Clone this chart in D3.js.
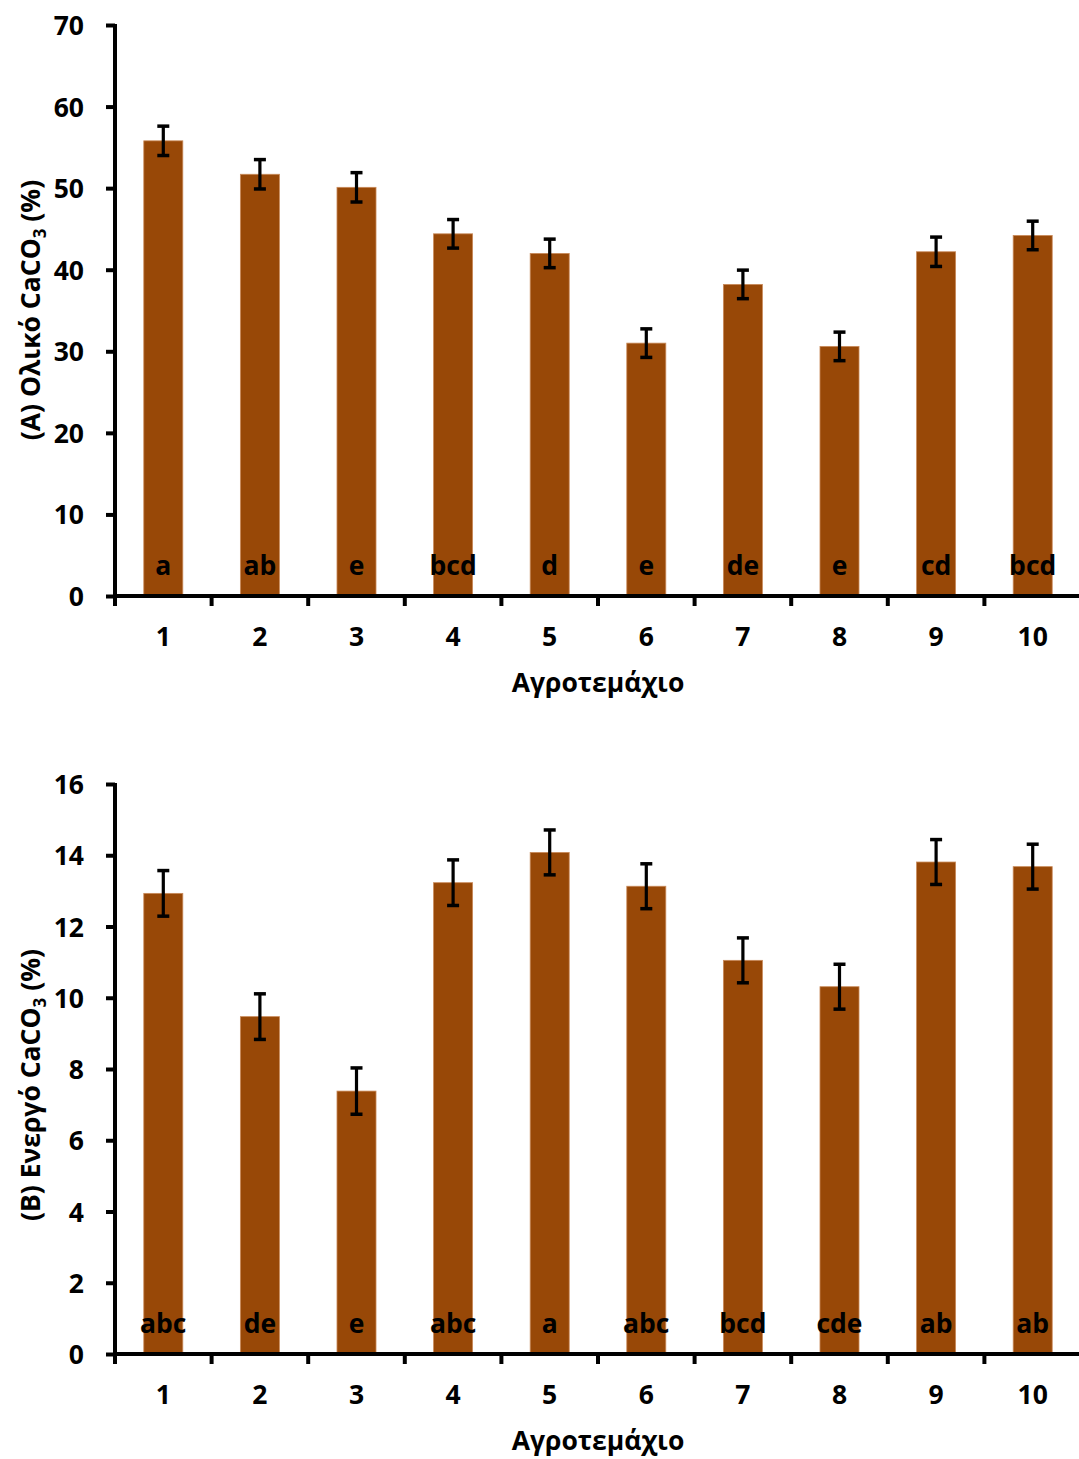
<!DOCTYPE html>
<html>
<head>
<meta charset="utf-8">
<script src="https://cdn.jsdelivr.net/npm/d3@7"></script>
<style>
  html, body { margin: 0; padding: 0; background: #fff; }
  svg { display: block; }
  text { font-family: "Open Sans", "Noto Sans", sans-serif; font-weight: 700; fill: #000; }
</style>
</head>
<body>
<svg id="chart" width="1079" height="1459"></svg>
<script>
// Plot (field) identifiers shared by both panels
const plots = ["1", "2", "3", "4", "5", "6", "7", "8", "9", "10"];

// Panel A: total CaCO3 (%), mean ± error, and significance letters
const totalValues = [55.8, 51.7, 50.1, 44.4, 42.0, 31.0, 38.2, 30.6, 42.2, 44.2];
const totalErrors = [1.8, 1.8, 1.8, 1.75, 1.75, 1.75, 1.75, 1.75, 1.8, 1.75];
const totalLetters = ["a", "ab", "e", "bcd", "d", "e", "de", "e", "cd", "bcd"];
const totalTicks = [0, 10, 20, 30, 40, 50, 60, 70];

// Panel B: active CaCO3 (%), mean ± error, and significance letters
const activeValues = [12.93, 9.47, 7.38, 13.23, 14.08, 13.13, 11.05, 10.31, 13.81, 13.68];
const activeErrors = [0.64, 0.64, 0.65, 0.64, 0.63, 0.63, 0.63, 0.63, 0.63, 0.63];
const activeLetters = ["abc", "de", "e", "abc", "a", "abc", "bcd", "cde", "ab", "ab"];
const activeTicks = [0, 2, 4, 6, 8, 10, 12, 14, 16];

const svg = d3.select("#chart");
const barColor = "#984807";
const axisWidth = 4;
const fontSize = "26.5px";

function drawPanel(cfg) {
  const g = svg.append("g");
  const x = d3.scaleBand()
    .domain(plots)
    .range([115, 1081])
    .paddingInner(0.596)
    .paddingOuter(0.298);
  const y = d3.scaleLinear()
    .domain([0, cfg.max])
    .range([cfg.bottom, cfg.top]);
  const step = x.step();
  const gap = (step - x.bandwidth()) / 2;

  // bars
  g.selectAll("rect.bar")
    .data(plots)
    .join("rect")
    .attr("class", "bar")
    .attr("x", d => x(d))
    .attr("width", x.bandwidth())
    .attr("y", (d, i) => y(cfg.values[i]))
    .attr("height", (d, i) => y(0) - y(cfg.values[i]))
    .attr("fill", barColor)
    .attr("stroke", "#c98a5a")
    .attr("stroke-width", 0.8);

  // error bars
  const eb = g.selectAll("g.err")
    .data(plots)
    .join("g")
    .attr("class", "err")
    .attr("transform", d => `translate(${x(d) + x.bandwidth() / 2},0)`);
  eb.append("line")
    .attr("y1", (d, i) => y(cfg.values[i] + cfg.errors[i]))
    .attr("y2", (d, i) => y(cfg.values[i] - cfg.errors[i]))
    .attr("stroke", "#000").attr("stroke-width", 3.2);
  [1, -1].forEach(sign => {
    eb.append("line")
      .attr("x1", -6).attr("x2", 6)
      .attr("y1", (d, i) => y(cfg.values[i] + sign * cfg.errors[i]))
      .attr("y2", (d, i) => y(cfg.values[i] + sign * cfg.errors[i]))
      .attr("stroke", "#000").attr("stroke-width", 3.5);
  });

  // significance letters inside the bars
  g.selectAll("text.letter")
    .data(plots)
    .join("text")
    .attr("class", "letter")
    .attr("x", d => x(d) + x.bandwidth() / 2)
    .attr("y", y(0) - 21)
    .attr("text-anchor", "middle")
    .style("font-size", fontSize)
    .text((d, i) => cfg.letters[i]);

  // y axis
  const yAxis = d3.axisLeft(y)
    .tickValues(cfg.ticks)
    .tickSize(9)
    .tickSizeOuter(0)
    .tickPadding(0)
    .tickFormat(d3.format("d"));
  const ya = g.append("g")
    .attr("transform", "translate(115,0)")
    .call(yAxis);
  ya.select(".domain").attr("stroke", "#000").attr("stroke-width", axisWidth)
    .attr("d", `M0,${cfg.top - 1}V${cfg.bottom + 10}`);
  ya.selectAll(".tick line").attr("stroke", "#000").attr("stroke-width", axisWidth);
  ya.selectAll(".tick text")
    .attr("x", -31)
    .attr("dy", "0.36em")
    .style("font-size", fontSize)
    .style("font-family", "'Open Sans', sans-serif")
    .style("font-weight", "700");

  // x axis: baseline, boundary ticks and centred category labels
  g.append("line")
    .attr("x1", 113).attr("x2", 1079)
    .attr("y1", y(0)).attr("y2", y(0))
    .attr("stroke", "#000").attr("stroke-width", axisWidth);
  g.selectAll("line.xtick")
    .data(plots)
    .join("line")
    .attr("class", "xtick")
    .attr("x1", d => x(d) - gap).attr("x2", d => x(d) - gap)
    .attr("y1", y(0)).attr("y2", y(0) + 10)
    .attr("stroke", "#000").attr("stroke-width", axisWidth);
  g.selectAll("text.xlab")
    .data(plots)
    .join("text")
    .attr("class", "xlab")
    .attr("x", d => x(d) + x.bandwidth() / 2)
    .attr("y", y(0) + 50)
    .attr("text-anchor", "middle")
    .style("font-size", fontSize)
    .text(d => d);

  // x axis title
  g.append("text")
    .attr("x", 598)
    .attr("y", y(0) + 96)
    .attr("text-anchor", "middle")
    .style("font-size", fontSize)
    .text("Αγροτεμάχιο");

  // y axis title with subscript
  const t = g.append("text")
    .attr("transform", `translate(40,${cfg.titleY}) rotate(-90)`)
    .attr("text-anchor", "middle")
    .style("font-size", fontSize);
  t.append("tspan").text(cfg.titlePre);
  t.append("tspan").attr("dy", 6).style("font-size", "17px").text("3");
  t.append("tspan").attr("dy", -6).text(" (%)");
}

drawPanel({
  values: totalValues, errors: totalErrors, letters: totalLetters,
  ticks: totalTicks, max: 70, top: 25, bottom: 596,
  titleY: 310, titlePre: "(A) Ολικό CaCO"
});

drawPanel({
  values: activeValues, errors: activeErrors, letters: activeLetters,
  ticks: activeTicks, max: 16, top: 784, bottom: 1354,
  titleY: 1085, titlePre: "(B) Ενεργό CaCO"
});
</script>
</body>
</html>
